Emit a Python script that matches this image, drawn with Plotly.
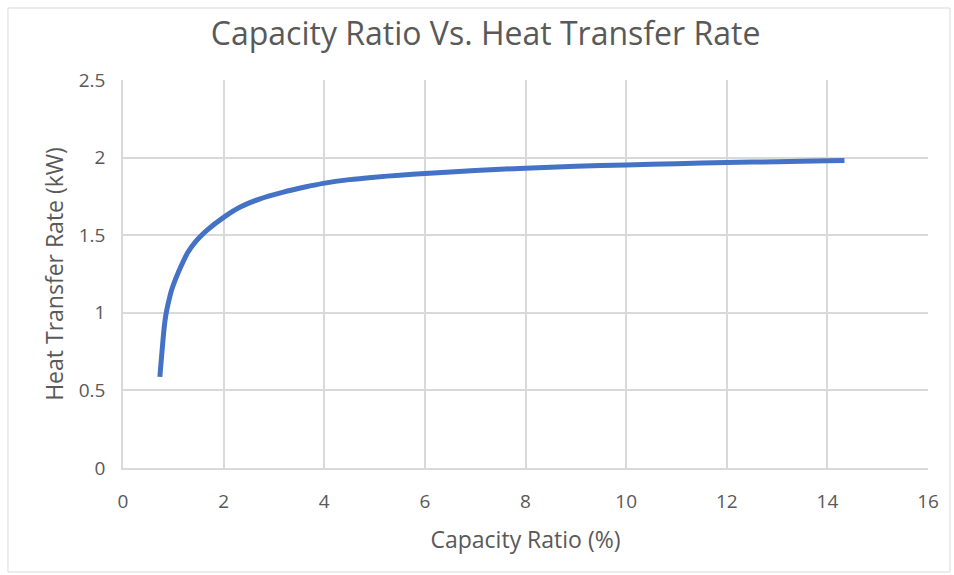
import plotly.graph_objects as go

capacity_ratio = [0.733, 0.75, 0.766, 0.783, 0.80, 0.82, 0.845, 0.87, 0.897, 0.93, 0.963, 1.06,
                  1.16, 1.29, 1.46, 1.66, 2.0, 2.32, 2.71, 3.17, 3.64, 3.98, 4.5, 5.0, 5.5, 6.0,
                  7.0, 8.0, 9.0, 10.0, 11.0, 12.0, 13.0, 14.0, 14.34]
heat_rate = [0.587, 0.655, 0.716, 0.78, 0.844, 0.91, 0.972, 1.018, 1.058, 1.103, 1.144, 1.23,
             1.305, 1.39, 1.465, 1.53, 1.615, 1.68, 1.733, 1.776, 1.812, 1.834, 1.858, 1.874,
             1.887, 1.898, 1.917, 1.932, 1.944, 1.953, 1.961, 1.968, 1.974, 1.979, 1.981]

x_ticks = [0, 2, 4, 6, 8, 10, 12, 14, 16]
y_ticks = [0, 0.5, 1, 1.5, 2, 2.5]

FONT = "Open Sans"
GRAY = "#595959"

fig = go.Figure()
fig.add_trace(go.Scatter(
    x=capacity_ratio, y=heat_rate, mode="lines",
    line=dict(color="#4472C4", width=5, shape="spline", smoothing=0.6),
    showlegend=False, hoverinfo="x+y",
))

fig.update_layout(
    width=954, height=575,
    margin=dict(l=123, r=26, t=80, b=107),
    paper_bgcolor="white", plot_bgcolor="white",
    title=dict(text="Capacity Ratio Vs. Heat Transfer Rate",
               font=dict(family=FONT, size=32, color=GRAY),
               x=0.509, xanchor="center", y=0.942, yanchor="middle"),
    xaxis=dict(range=[0, 16], tickvals=x_ticks, ticktext=[str(v) for v in x_ticks],
               showgrid=True, gridcolor="#D9D9D9", gridwidth=1.5,
               showline=True, linecolor="#D9D9D9", linewidth=1.5,
               zeroline=False, ticks="outside", ticklen=15, tickcolor="rgba(0,0,0,0)",
               tickfont=dict(family=FONT, size=19, color=GRAY),
               title=dict(text="Capacity Ratio (%)", font=dict(family=FONT, size=23, color=GRAY),
                          standoff=19)),
    yaxis=dict(range=[0, 2.5], tickvals=y_ticks, ticktext=["0", "0.5", "1", "1.5", "2", "2.5"],
               showgrid=True, gridcolor="#D9D9D9", gridwidth=1.5,
               showline=True, linecolor="#D9D9D9", linewidth=1.5,
               zeroline=False, ticks="outside", ticklen=12, tickcolor="rgba(0,0,0,0)",
               tickfont=dict(family=FONT, size=19, color=GRAY),
               title=dict(text="Heat Transfer Rate (kW)", font=dict(family=FONT, size=23, color=GRAY),
                          standoff=9)),
    shapes=[dict(type="rect", xref="paper", yref="paper",
                 x0=-0.1429, x1=1.0273, y0=-0.268, y1=1.1856,
                 line=dict(color="#D9D9D9", width=1), fillcolor="rgba(0,0,0,0)", layer="below")],
)

fig.write_html("out.html")
